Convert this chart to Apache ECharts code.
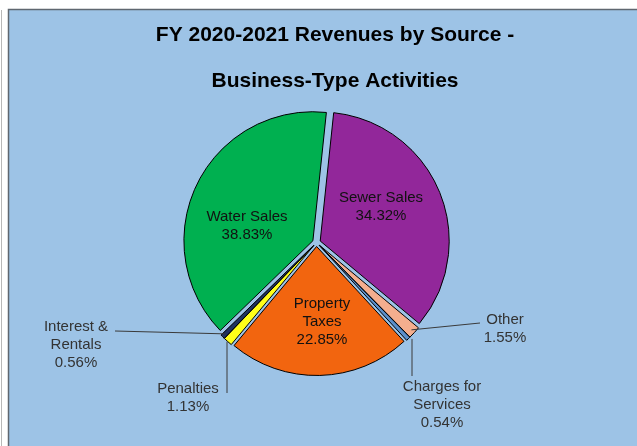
<!DOCTYPE html>
<html>
<head>
<meta charset="utf-8">
<script src="https://cdn.jsdelivr.net/npm/echarts@6/dist/echarts.min.js"></script>
<style>
html,body{margin:0;padding:0;background:#fff;}
#chart{width:637px;height:446px;}
</style>
</head>
<body>
<div id="chart"></div>
<script>
// Data (clockwise from top)
const categories = ['Sewer Sales', 'Other', 'Charges for\nServices', 'Property\nTaxes', 'Penalties', 'Interest &\nRentals', 'Water Sales'];
const values = [34.32, 1.55, 0.54, 22.85, 1.13, 0.56, 38.83];
const colors = ['#92279A', '#F4AE8E', '#5B8FCB', '#F2650F', '#FFFF19', '#1F3260', '#00B050'];
const insideLabel = [true, false, false, true, false, false, true];
const titleLines = ['FY 2020-2021 Revenues by Source -', 'Business-Type Activities'];

// label placements (layout only): text-block centre, and leader-line end
const labelPos = {0: [381, 207], 1: [505, 329], 2: [442, 405], 3: [322, 322], 4: [188, 398], 5: [76, 345], 6: [247, 226]};
const lineEnd = {1: [480, 323], 2: [412, 376], 4: [227, 393], 5: [115, 331]};
const verticalLine = {2: true, 4: true};

const chart = echarts.init(document.getElementById('chart'), null, {renderer: 'canvas'});

const sliceData = categories.map((n, i) => ({
  name: n, value: values[i], selected: true, itemStyle: {color: colors[i]}
}));
const labelData = categories.map((n, i) => ({
  name: n, value: values[i],
  label: {color: insideLabel[i] ? '#111' : '#333'},
  labelLine: {show: !insideLabel[i]}
}));

const center = [316.5, 242.5];
const radius = 129;
const startAngle = 84;

chart.setOption({
  backgroundColor: '#ffffff',
  animation: false,
  graphic: [
    {type: 'rect', z: -10, shape: {x: 8.5, y: 9.5, width: 640, height: 450}, style: {fill: '#9DC3E6', stroke: '#5f6770', lineWidth: 1.5}},
    {type: 'line', z: -10, shape: {x1: 1.5, y1: 10, x2: 1.5, y2: 446}, style: {stroke: '#b8b8b8', lineWidth: 1}}
  ],
  title: [
    {text: titleLines[0], left: 330, top: 20, textAlign: 'center',
     textStyle: {fontFamily: 'Liberation Sans', fontWeight: 'bold', fontSize: 21, color: '#000'}},
    {text: titleLines[1], left: 330, top: 66, textAlign: 'center',
     textStyle: {fontFamily: 'Liberation Sans', fontWeight: 'bold', fontSize: 21, color: '#000'}}
  ],
  series: [{
    type: 'pie',
    center: center,
    radius: radius,
    startAngle: startAngle,
    clockwise: true,
    selectedMode: 'multiple',
    selectedOffset: 4,
    itemStyle: {borderColor: '#000', borderWidth: 1},
    select: {itemStyle: {borderColor: '#000', borderWidth: 1}},
    emphasis: {disabled: true},
    label: {show: false},
    labelLine: {show: false},
    data: sliceData
  }, {
    type: 'pie',
    center: center,
    radius: radius,
    startAngle: startAngle,
    clockwise: true,
    selectedMode: false,
    silent: true,
    z: 3,
    itemStyle: {color: 'rgba(0,0,0,0)', borderWidth: 0},
    emphasis: {disabled: true},
    avoidLabelOverlap: false,
    label: {
      show: true,
      position: 'outside',
      fontFamily: 'Liberation Sans',
      fontSize: 15,
      lineHeight: 18,
      align: 'center',
      formatter: p => p.name + '\n' + p.value.toFixed(2) + '%'
    },
    labelLine: {lineStyle: {color: '#3a3a3a', width: 1}, length: 10, length2: 10},
    labelLayout: function (params) {
      const i = params.dataIndex;
      const p = labelPos[i];
      const out = {x: p[0], y: p[1], align: 'center', verticalAlign: 'middle'};
      if (lineEnd[i] && params.labelLinePoints) {
        const a = params.labelLinePoints[0];
        const start = verticalLine[i] ? [lineEnd[i][0], a[1] + 3] : a;
        out.labelLinePoints = [start, lineEnd[i]];
      }
      return out;
    },
    data: labelData
  }]
});
</script>
</body>
</html>
